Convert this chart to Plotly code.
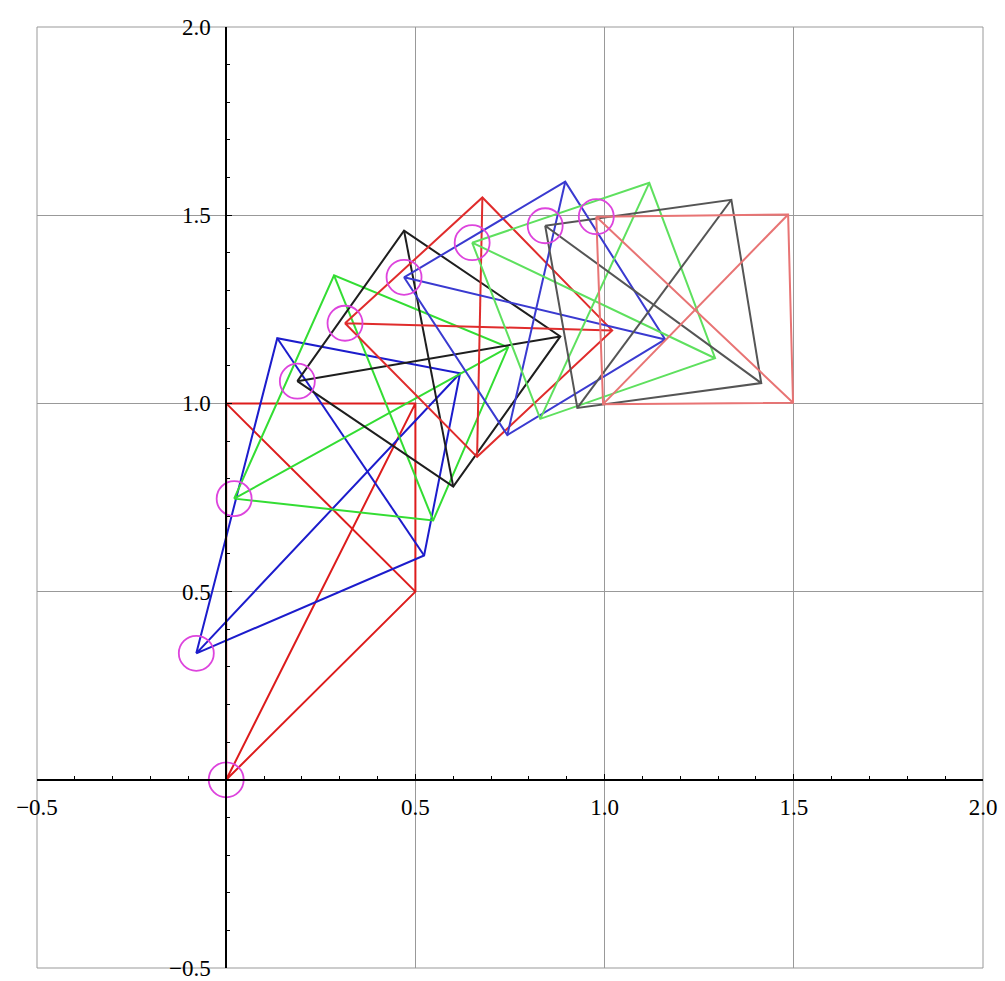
import plotly.graph_objects as go

# Quadrilateral vertices (P1 is the marked vertex)
quad_names = ["red1", "blue1", "green1", "black1", "red2", "blue2", "green2", "black2", "red3"]
quad_x = [
    [0.000, 0.000, 0.500, 0.500],
    [-0.079, 0.135, 0.618, 0.523],
    [0.021, 0.285, 0.745, 0.547],
    [0.188, 0.470, 0.883, 0.600],
    [0.314, 0.677, 1.020, 0.663],
    [0.470, 0.896, 1.160, 0.743],
    [0.650, 1.118, 1.292, 0.830],
    [0.843, 1.335, 1.414, 0.928],
    [0.978, 1.485, 1.498, 0.996],
]
quad_y = [
    [0.000, 1.000, 1.000, 0.500],
    [0.336, 1.173, 1.080, 0.596],
    [0.747, 1.340, 1.149, 0.689],
    [1.059, 1.459, 1.178, 0.779],
    [1.213, 1.547, 1.194, 0.858],
    [1.335, 1.589, 1.170, 0.916],
    [1.427, 1.586, 1.120, 0.959],
    [1.472, 1.541, 1.054, 0.988],
    [1.496, 1.502, 1.002, 0.998],
]
quad_colors = ["#dd1c1c", "#1c1ccc", "#33dd33", "#1e1e1e", "#e02c2c",
               "#3a3ad0", "#5ee05e", "#555555", "#e87474"]

tick_vals = [-0.5, 0.0, 0.5, 1.0, 1.5, 2.0]
tick_text = ["\u22120.5", "", "0.5", "1.0", "1.5", "2.0"]

fig = go.Figure()

for xs, ys, c in zip(quad_x, quad_y, quad_colors):
    px = [xs[0], xs[1], xs[2], xs[3], xs[0], xs[2], None, xs[1], xs[3]]
    py = [ys[0], ys[1], ys[2], ys[3], ys[0], ys[2], None, ys[1], ys[3]]
    fig.add_trace(go.Scatter(x=px, y=py, mode="lines",
                             line=dict(color=c, width=2),
                             hoverinfo="skip", showlegend=False))

fig.add_trace(go.Scatter(
    x=[q[0] for q in quad_x], y=[q[0] for q in quad_y], mode="markers",
    marker=dict(symbol="circle-open", size=35, color="#dd44dd",
                line=dict(width=1.8, color="#dd44dd")),
    showlegend=False, hoverinfo="skip"))

axis_common = dict(
    range=[-0.5, 2.0], tickmode="array", tickvals=tick_vals, ticktext=tick_text,
    showgrid=True, gridcolor="#999999", gridwidth=1, zeroline=False,
    showline=True, linecolor="black", linewidth=1.5,
    ticks="inside", ticklen=5, tickcolor="black", tickwidth=1,
    minor=dict(dtick=0.1, tick0=0, ticks="inside", ticklen=3,
               tickcolor="black", showgrid=False),
    tickfont=dict(family="Liberation Serif", size=23, color="black"),
    anchor="free", position=0.2, ticklabeloverflow="allow",
    automargin=False, fixedrange=True,
)

fig.update_layout(
    width=1005, height=981,
    margin=dict(l=37, r=22, t=27, b=13, autoexpand=False),
    paper_bgcolor="white", plot_bgcolor="white",
    xaxis=dict(axis_common, ticklabelstandoff=7),
    yaxis=dict(axis_common, ticklabelstandoff=10),
    shapes=[dict(type="rect", xref="paper", yref="paper", x0=0, y0=0, x1=1, y1=1,
                 line=dict(color="#999999", width=1), layer="below")],
)

fig.write_html("out.html", config={"displayModeBar": False},
               post_script="document.body.style.margin='0';document.body.style.overflow='hidden';")
